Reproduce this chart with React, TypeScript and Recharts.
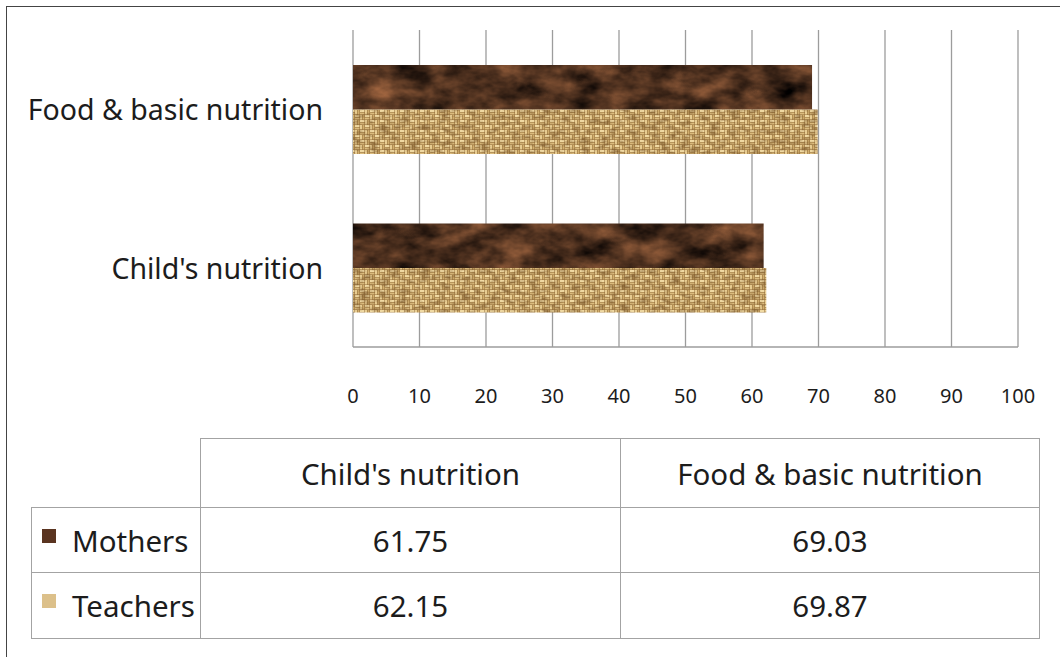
import React from "react";
import { BarChart, Bar, XAxis, YAxis, CartesianGrid } from "recharts";

const categories = ["Child's nutrition", "Food & basic nutrition"];
const seriesNames = ["Mothers", "Teachers"];
const mothersValues = [61.75, 69.03];
const teachersValues = [62.15, 69.87];
const xTicks = [0, 10, 20, 30, 40, 50, 60, 70, 80, 90, 100];

const data = categories.map((c, i) => ({
  category: c,
  Mothers: mothersValues[i],
  Teachers: teachersValues[i],
}));

const FONT = "'Noto Sans', 'DejaVu Sans', sans-serif";
const TEXT = "#1c1c1c";
const GRID = "#9c9c9c";

const YTick = (props: any) => {
  const { y, payload } = props;
  return (
    <text x={323} y={y} textAnchor="end" dominantBaseline="central" fontSize={28.5} fill={TEXT} fontFamily={FONT}>
      {payload.value}
    </text>
  );
};

const XTick = (props: any) => {
  const { x, y, payload } = props;
  return (
    <text x={x} y={y + 48} textAnchor="middle" dominantBaseline="central" fontSize={20} fill={TEXT} fontFamily={FONT}>
      {payload.value}
    </text>
  );
};

const Patterns = () => (
  <defs>
    <filter
      id="marbleF"
      x={0}
      y={0}
      width={700}
      height={200}
      filterUnits="userSpaceOnUse"
      colorInterpolationFilters="sRGB"
    >
      <feTurbulence type="fractalNoise" baseFrequency="0.03 0.05" numOctaves={4} seed={11} stitchTiles="stitch" result="n" />
      <feColorMatrix
        in="n"
        type="matrix"
        values="0.75 0 0 0 -0.07  0.48 0 0 0 -0.05  0.3 0 0 0 -0.03  0 0 0 0 1"
      />
    </filter>
    <filter
      id="grainF"
      x={0}
      y={0}
      width={700}
      height={200}
      filterUnits="userSpaceOnUse"
      colorInterpolationFilters="sRGB"
    >
      <feTurbulence type="fractalNoise" baseFrequency="0.1 0.2" numOctaves={3} seed={3} stitchTiles="stitch" result="g" />
      <feColorMatrix
        in="g"
        type="matrix"
        values="0 0 0 0 0.4  0 0 0 0 0.26  0 0 0 0 0.1  1.2 0 0 0 -0.48"
      />
    </filter>
    <pattern id="marble" patternUnits="userSpaceOnUse" x={0} y={0} width={700} height={200}>
      <rect x={0} y={0} width={700} height={200} fill="#4d2c1a" />
      <rect x={0} y={0} width={700} height={200} filter="url(#marbleF)" />
    </pattern>
    <pattern id="weave" patternUnits="userSpaceOnUse" x={0} y={0} width={10} height={10}>
      <rect x={0} y={0} width={10} height={10} fill="#916b38" />
      <rect x={0} y={0} width={4.5} height={2} fill="#f0d9a2" />
      <rect x={0} y={2.5} width={4.5} height={2} fill="#dcbc7e" />
      <rect x={5} y={5} width={4.5} height={2} fill="#f0d9a2" />
      <rect x={5} y={7.5} width={4.5} height={2} fill="#dcbc7e" />
      <rect x={5} y={0} width={2} height={4.5} fill="#e8cd92" />
      <rect x={7.5} y={0} width={2} height={4.5} fill="#d1ae6d" />
      <rect x={0} y={5} width={2} height={4.5} fill="#e8cd92" />
      <rect x={2.5} y={5} width={2} height={4.5} fill="#d1ae6d" />
    </pattern>
    <pattern id="burlap" patternUnits="userSpaceOnUse" x={0} y={0} width={700} height={200}>
      <rect x={0} y={0} width={700} height={200} fill="url(#weave)" />
      <rect x={0} y={0} width={700} height={200} filter="url(#grainF)" />
    </pattern>
  </defs>
);

const Swatch = ({ fill }: { fill: string }) => (
  <svg width={14} height={14} style={{ display: "inline-block", verticalAlign: "middle", marginRight: 16, position: "relative", top: -8 }}>
    <rect x={0} y={0} width={14} height={14} fill={fill} />
  </svg>
);

const seriesFill = ["url(#marble)", "url(#burlap)"];
const swatchFill = ["#5a3420", "#dcc08a"];
const seriesValues = [mothersValues, teachersValues];

const border = "1.5px solid #a3a3a3";

export default function App() {
  return (
    <div
      style={{
        position: "fixed",
        left: 0,
        top: 0,
        width: 1060,
        height: 657,
        background: "#fff",
        overflow: "hidden",
        fontFamily: FONT,
      }}
    >
      <div
        style={{
          position: "absolute",
          left: 6,
          top: 6,
          width: 1200,
          height: 800,
          borderLeft: "1.5px solid #444",
          borderTop: "1.5px solid #444",
        }}
      />
      <div style={{ position: "absolute", left: 0, top: 0 }}>
        <BarChart
          width={1060}
          height={420}
          data={data}
          layout="vertical"
          margin={{ top: 30, right: 42, bottom: 0, left: 0 }}
          barGap={0}
          barSize={44.5}
        >
          <Patterns />
          <CartesianGrid horizontal={false} vertical={true} stroke={GRID} strokeWidth={1.3} />
          <XAxis
            type="number"
            domain={[0, 100]}
            ticks={xTicks}
            height={73}
            axisLine={{ stroke: GRID, strokeWidth: 1.3 }}
            tickLine={false}
            tickSize={0}
            tickMargin={0}
            tick={<XTick />}
            interval={0}
          />
          <YAxis
            type="category"
            dataKey="category"
            reversed
            width={353}
            axisLine={false}
            tickLine={false}
            tick={<YTick />}
          />
          {seriesNames.map((s, i) => (
            <Bar key={s} dataKey={s} fill={seriesFill[i]} isAnimationActive={false} />
          ))}
        </BarChart>
      </div>
      <table
        style={{
          position: "absolute",
          left: 31,
          top: 438,
          borderCollapse: "collapse",
          tableLayout: "fixed",
          width: 1008,
          fontFamily: FONT,
          fontSize: 29.5,
          color: TEXT,
        }}
      >
        <colgroup>
          <col style={{ width: 169 }} />
          <col style={{ width: 420 }} />
          <col style={{ width: 419 }} />
        </colgroup>
        <tbody>
          <tr style={{ height: 69 }}>
            <td style={{ border: "none", borderRight: border, borderBottom: border }} />
            {categories.map((c) => (
              <td key={c} style={{ border, textAlign: "center", padding: 0 }}>
                {c}
              </td>
            ))}
          </tr>
          {seriesNames.map((s, si) => (
            <tr key={s} style={{ height: si === 0 ? 65 : 66 }}>
              <td style={{ border, padding: "0 0 0 10px", whiteSpace: "nowrap" }}>
                <Swatch fill={swatchFill[si]} />
                {s}
              </td>
              {seriesValues[si].map((v, ci) => (
                <td key={ci} style={{ border, textAlign: "center", padding: 0 }}>
                  {v.toFixed(2)}
                </td>
              ))}
            </tr>
          ))}
        </tbody>
      </table>
    </div>
  );
}
